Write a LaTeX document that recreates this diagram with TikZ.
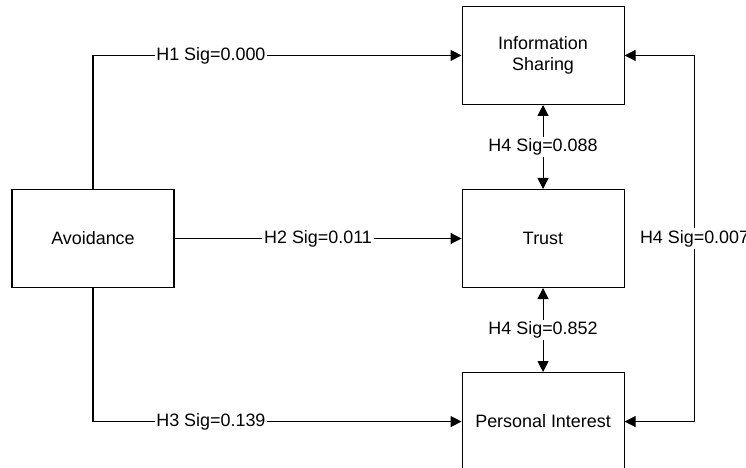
\documentclass[tikz,border=0pt]{standalone}
\usepackage{fontspec}
\setmainfont{Liberation Sans}
\usetikzlibrary{arrows.meta, positioning}

\begin{document}
\begin{tikzpicture}[
  box/.style={rectangle, draw, line width=0.6pt,
              minimum width=3.24cm, minimum height=1.96cm,
              align=center, inner sep=0pt},
  arrow/.style={-{Triangle[length=0.22cm, width=0.22cm]}, line width=0.6pt},
  biarrow/.style={{Triangle[length=0.22cm, width=0.22cm]}-{Triangle[length=0.22cm, width=0.22cm]},
                  line width=0.6pt},
  lbl/.style={fill=white, inner sep=1pt},
  node distance=1.68cm and 5.74cm,
  font=\fontsize{10.2}{12.3}\selectfont
]
\useasboundingbox (0,0) rectangle (14.92,-9.36);

% constructs
\node[box] (avoid) at (1.86,-4.77) {Avoidance};
\node[box, right=of avoid] (trust) {Trust};
\node[box, above=of trust] (info) {Information\\Sharing};
\node[box, below=of trust] (pers) {Personal Interest};

% paths from avoidance
\draw[arrow] (avoid.north) |- node[lbl, pos=0.66]{H1 Sig=0.000} (info.west);
\draw[arrow] (avoid) -- node[lbl]{H2 Sig=0.011} (trust);
\draw[arrow] (avoid.south) |- node[lbl, pos=0.66]{H3 Sig=0.139} (pers.west);

% mutual links
\draw[biarrow] (info) -- node[lbl]{H4 Sig=0.088} (trust);
\draw[biarrow] (trust) -- node[lbl]{H4 Sig=0.852} (pers);
\coordinate[right=1.4cm of info.east] (infoR);
\coordinate[right=1.4cm of pers.east] (persR);
\draw[biarrow] (info.east) -- (infoR) -- node[lbl]{H4 Sig=0.007} (persR) -- (pers.east);

\end{tikzpicture}
\end{document}
